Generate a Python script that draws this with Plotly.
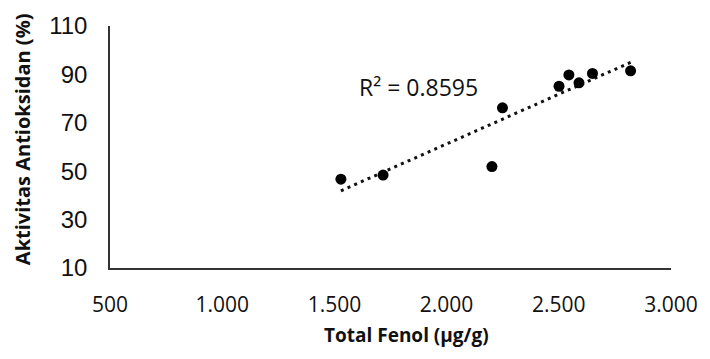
import numpy as np
import plotly.graph_objects as go

# Data
total_fenol = [1529, 1717, 2202, 2249, 2501, 2545, 2590, 2650, 2820]
aktivitas = [46.7, 48.4, 51.9, 76.2, 85.1, 89.8, 86.5, 90.4, 91.5]
x_ticks = [500, 1000, 1500, 2000, 2500, 3000]
y_ticks = [10, 30, 50, 70, 90, 110]
r2_label = "R² = 0.8595"
x_title = "Total Fenol (µg/g)"
y_title = "Aktivitas Antioksidan (%)"

# Linear trendline from the data
slope, intercept = np.polyfit(total_fenol, aktivitas, 1)
trend_x = [min(total_fenol), max(total_fenol)]
trend_y = [slope * v + intercept for v in trend_x]

fig = go.Figure()
fig.add_trace(go.Scatter(
    x=trend_x, y=trend_y, mode="lines",
    line=dict(color="#111111", width=3, dash="3px,4.3px"),
    hoverinfo="skip", showlegend=False,
))
fig.add_trace(go.Scatter(
    x=total_fenol, y=aktivitas, mode="markers",
    marker=dict(color="black", size=11),
    showlegend=False,
))

W, H = 710, 359
# plot area in window pixels
PL, PR, PT, PB = 109.5, 679, 23.3, 268.3
L, T, R, B = PL, PT, W - PR, H - PB
pw, ph = PR - PL, PB - PT

def px2paper(px, py):
    return (px - PL) / pw, (PB - py) / ph

ann = []
ax, ay = px2paper(423, 85)
ann.append(dict(x=ax, y=ay, xref="paper", yref="paper", text=r2_label,
                showarrow=False, font=dict(family="Open Sans", size=23, color="#111111"),
                xanchor="center", yanchor="middle"))
ax, ay = px2paper(410, 336)
ann.append(dict(x=ax, y=ay, xref="paper", yref="paper", text="<b>" + x_title + "</b>",
                showarrow=False, font=dict(family="Open Sans", size=19, color="#111111"),
                xanchor="center", yanchor="middle"))
ax, ay = px2paper(20, 138)
ann.append(dict(x=ax, y=ay, xref="paper", yref="paper", text="<b>" + y_title + "</b>",
                showarrow=False, textangle=-90,
                font=dict(family="Open Sans", size=20, color="#111111"),
                xanchor="center", yanchor="middle"))

fig.update_layout(
    width=W, height=H,
    margin=dict(l=L, r=R, t=T, b=B, pad=0),
    paper_bgcolor="white", plot_bgcolor="white",
    separators=",.",
    annotations=ann,
    xaxis=dict(
        range=[500, 3000], tickvals=x_ticks, tickformat=",d",
        showgrid=False, zeroline=False,
        showline=True, linecolor="#333333", linewidth=1.5,
        ticks="", ticklabelstandoff=17,
        tickfont=dict(family="Open Sans", size=21, color="#111111"),
    ),
    yaxis=dict(
        range=[10, 110], tickvals=y_ticks,
        showgrid=False, zeroline=False,
        showline=True, linecolor="#333333", linewidth=1.5,
        ticks="", ticklabelstandoff=16,
        tickfont=dict(family="Liberation Sans", size=24, color="#111111"),
    ),
)

fig.write_html(
    "out.html",
    config={"displayModeBar": False},
    post_script="document.body.style.margin='0';document.body.style.overflow='hidden';",
)
